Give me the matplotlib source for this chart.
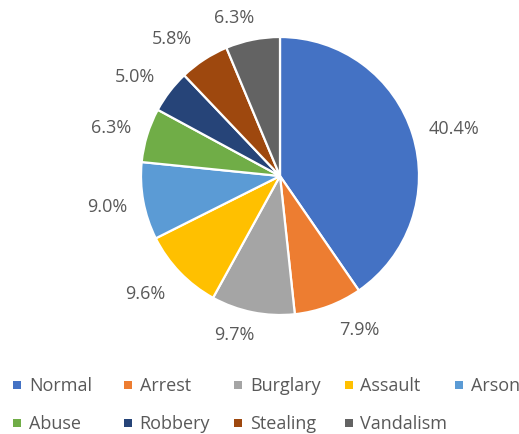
import numpy as np
import matplotlib
matplotlib.use('Agg')
import matplotlib.pyplot as plt
from matplotlib.patches import Rectangle

# crime categories and their share (%)
labels = ['Normal', 'Arrest', 'Burglary', 'Assault', 'Arson',
          'Abuse', 'Robbery', 'Stealing', 'Vandalism']
shares = [40.4, 7.9, 9.7, 9.6, 9.0, 6.3, 5.0, 5.8, 6.3]
colors = ['#4472C4', '#ED7D31', '#A5A5A5', '#FFC000', '#5B9BD5',
          '#70AD47', '#264478', '#9E480E', '#636363']

# where each percentage label sits: distance from centre (in radii)
# and a small turn (degrees) away from the middle of its slice
label_r = [1.30, 1.245, 1.19, 1.29, 1.265, 1.26, 1.26, 1.255, 1.185]
label_da = [2.2, -6.9, 4.7, 2.7, 0.2, -1.2, -3.1, -5.2, -4.9]

W, H = 519, 434
cx, cy, R = 280, 176, 139
txt_col = '#595959'
fn = 'Open Sans'
fs = 13

fig = plt.figure(figsize=(W / 100, H / 100), dpi=100)
ax = fig.add_axes([0, 0, 1, 1])

wedges, _ = ax.pie(shares, colors=colors, startangle=90, counterclock=False,
                   radius=1, center=(0, 0), frame=True,
                   wedgeprops=dict(edgecolor='white', linewidth=1.6))
ax.set_xlim(-cx / R, (W - cx) / R)
ax.set_ylim(-(H - cy) / R, cy / R)
ax.axis('off')

# percentage labels outside the slices
cum = np.cumsum([0] + shares)
for i, v in enumerate(shares):
    mid = np.deg2rad((cum[i] + v / 2) / 100 * 360 + label_da[i])
    x = label_r[i] * np.sin(mid)
    y = label_r[i] * np.cos(mid)
    ax.text(x, y, f'{v:.1f}%', ha='center', va='center',
            fontsize=fs, color=txt_col, family=fn)

# legend, two rows with fixed column spacing
col_w = 110.5
for i, name in enumerate(labels):
    col, row = i % 5, i // 5
    px = 13 + col * col_w
    py = 385 + row * 38
    fig.add_artist(Rectangle((px / W, 1 - (py + 4) / H), 8 / W, 8 / H,
                             transform=fig.transFigure, color=colors[i], lw=0))
    fig.text((px + 16) / W, 1 - (py + 1) / H, name, ha='left', va='center',
             fontsize=fs, color=txt_col, family=fn)

plt.savefig('out.png', dpi=100)
